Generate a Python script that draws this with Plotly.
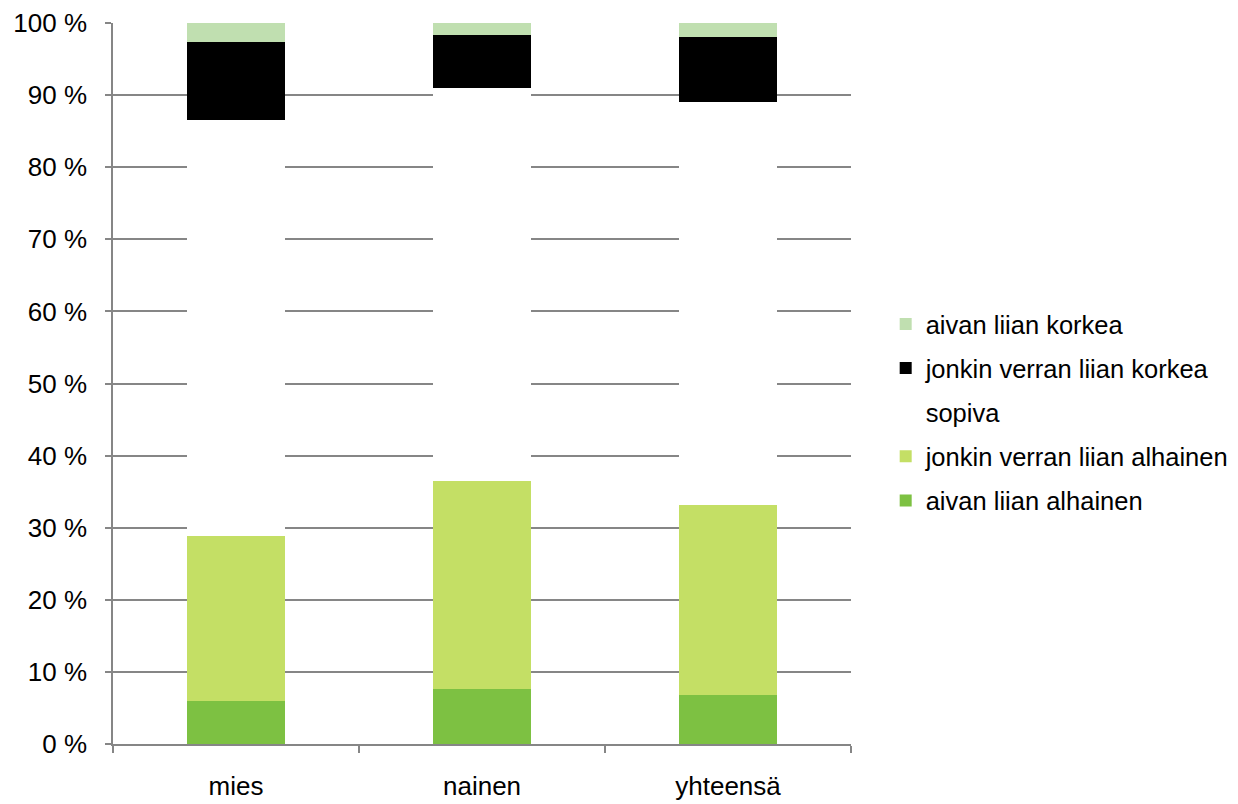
import plotly.graph_objects as go

categories = ["mies", "nainen", "yhteensä"]
series_names = ["aivan liian alhainen", "jonkin verran liian alhainen", "sopiva",
                "jonkin verran liian korkea", "aivan liian korkea"]
aivan_alhainen = [6.0, 7.6, 6.8]
jonkin_alhainen = [22.9, 28.9, 26.3]
sopiva = [57.6, 54.5, 55.9]
jonkin_korkea = [10.8, 7.4, 9.0]
aivan_korkea = [2.7, 1.6, 2.0]
colors = ["#7dc142", "#c4df65", "#ffffff", "#000000", "#c0dfb0"]
tick_vals = list(range(0, 101, 10))
tick_text = [f"{v} %" for v in tick_vals]

series = [aivan_alhainen, jonkin_alhainen, sopiva, jonkin_korkea, aivan_korkea]

fig = go.Figure()
n = len(series)
for i, (name, vals, col) in enumerate(zip(series_names, series, colors)):
    fig.add_trace(go.Bar(x=categories, y=vals, name=name, legendgroup=name,
                         legendrank=n - i,
                         marker=dict(color=col, line=dict(width=0)), width=0.4))

font = dict(family="Liberation Sans, Arial, sans-serif", size=26, color="#000000")
lfont = dict(family="Liberation Sans, Arial, sans-serif", size=25.5, color="#000000")
fig.update_layout(
    barmode="stack",
    width=1238, height=804,
    margin=dict(l=105, r=391, t=15, b=68),
    paper_bgcolor="white", plot_bgcolor="white",
    font=font,
    showlegend=True,
    legend=dict(x=1.047, xanchor="left", y=0.46, yanchor="middle",
                traceorder="grouped",
                font=lfont, itemwidth=30, bgcolor="rgba(0,0,0,0)", tracegroupgap=8),
    bargap=0.6,
)
fig.update_xaxes(showline=True, linecolor="#868686", linewidth=1.5, ticks="outside",
                 tickson="boundaries", ticklen=7, tickcolor="#868686", tickwidth=1.5,
                 showgrid=False, tickfont=font, automargin=False, ticklabelstandoff=18)
fig.update_yaxes(range=[0, 100], tickvals=tick_vals, ticktext=tick_text, showline=True,
                 linecolor="#868686", linewidth=1.5, ticks="outside", ticklen=6,
                 tickcolor="#868686", tickwidth=1.5, showgrid=True, gridcolor="#868686",
                 gridwidth=1.5, zeroline=False, tickfont=font, automargin=False,
                 ticklabelstandoff=13, ticklabeloverflow="allow")
fig.write_html("out.html")
